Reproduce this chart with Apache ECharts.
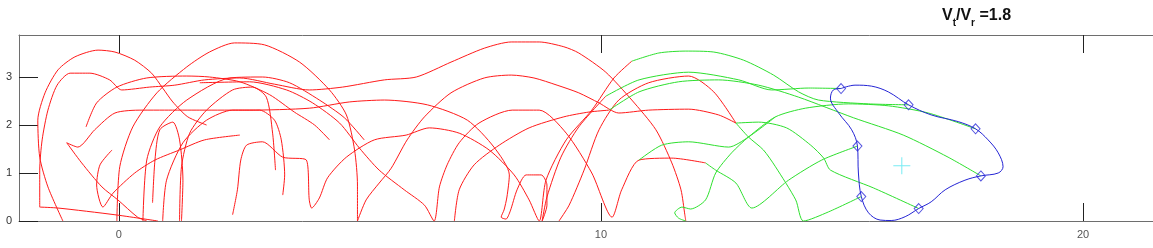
<!DOCTYPE html>
<html><head><meta charset="utf-8">
<script src="https://cdn.jsdelivr.net/npm/echarts@6/dist/echarts.min.js"></script>
<style>html,body{margin:0;padding:0;background:#fff}#c{width:1153px;height:248px}</style>
</head><body><div id="c"></div>
<script>
// ---- axis settings / tick labels ----
const xTicks = [0, 10, 20];
const yTicks = [0, 1, 2, 3];
const xMin = -2.07, xMax = 21.45, yMin = 0, yMax = 3.875;

// ---- red (earlier) parts of the tracks ----
const t1Red = [[0.58,0],[0.39,0.08],[-0.02,0.44],[-0.35,0.71],[-0.77,1.21],[-1.08,1.63],[-0.85,1.54],[-0.50,1.90],[-0.08,2.25],[0.48,2.31],[0.95,2.31],[1.68,2.31],[2.71,2.31],[3.95,2.35],[4.78,2.48],[5.51,2.52],[6.40,2.42],[7.23,2.10],[7.78,1.54],[8.10,0.96],[8.05,0.50],[7.99,0.23],[7.93,0.08],[8.03,0.04],[8.12,0.21],[8.26,0.65],[8.45,0.96],[8.76,0.96],[8.88,0.75],[8.88,0.33],[8.78,0],[8.88,0.50],[9.17,1.33],[9.54,1.96],[10.10,2.60]];
const t2Red = [[2.36,0.13],[2.46,0.65],[2.53,1.27],[2.65,1.58],[2.98,1.65],[3.40,1.33],[3.89,1.27],[3.95,0.44],[4.00,0.27],[4.16,0.48],[4.33,0.90],[4.72,1.33],[5.30,1.69],[5.96,1.79],[6.44,1.94],[7.06,1.83],[7.68,1.48],[8.20,0.96],[8.51,0.44],[8.72,0],[8.86,0.85],[9.28,1.69],[9.81,2.31],[10.27,2.98],[10.64,3.33]];
const t3Red = [[-1.64,0.29],[-1.64,1.06],[-1.59,1.69],[-1.47,2.31],[-1.28,2.83],[-1.01,3.08],[-0.60,3.08],[-0.19,2.94],[0.06,2.73],[0.64,2.79],[1.16,2.83],[1.78,2.94],[2.51,2.98],[3.23,2.85],[3.95,2.73],[4.64,2.79],[5.51,2.94],[6.17,3.00],[6.89,3.31],[7.58,3.60],[8.14,3.73],[8.72,3.73],[9.23,3.63],[9.54,3.50],[10.10,3.10],[10.64,2.52],[11.14,1.90],[11.47,1.21],[11.66,0.65],[11.74,0.13],[11.76,0]];
const t4Red = [[6.96,0],[7.06,0.65],[7.37,1.17],[7.89,1.58],[8.51,1.94],[9.23,2.17],[9.75,2.27],[10.17,2.31]];
const t5Red = [[-0.04,0],[0.02,1.13],[0.29,1.96],[0.79,2.67],[1.41,3.21],[1.88,3.52],[2.40,3.71],[3.02,3.67],[3.75,3.31],[4.37,2.73],[4.72,2.21],[4.89,1.48],[4.95,0.75],[4.95,0],[5.13,0.44],[5.40,0.79],[5.65,1.10],[5.98,1.69],[6.34,2.17],[6.89,2.67],[7.58,2.98],[8.14,3.04],[8.61,2.98],[9.09,2.83],[9.54,2.67],[9.96,2.46],[10.37,2.25],[10.99,2.31],[11.82,2.33],[12.44,2.21],[12.80,2.04]];
const t6Red = [[9.13,0],[9.34,0.33],[9.65,1.06],[9.96,1.90],[10.37,2.52],[10.99,2.88],[11.82,3.02],[12.34,2.69],[12.80,2.04]];
const t7Red = [[1.68,2.88],[2.71,2.90],[3.48,2.73],[4.02,2.46],[4.58,2.04],[4.99,1.52],[5.40,1.06],[5.92,0.65],[6.34,0.33],[6.54,0],[6.65,0.71],[6.81,1.17],[7.06,1.63],[7.47,2.04],[8.16,2.31],[8.72,2.31],[9.28,1.83],[9.81,1.00],[10.23,0.08],[10.43,0.65],[10.79,1.27],[11.47,1.31],[12.17,1.21]];
const r1 = [[-1.16,0],[-1.47,0.71],[-1.64,1.33],[-1.68,2.10],[-1.53,2.67],[-1.26,3.15],[-0.91,3.42],[-0.43,3.56],[-0.08,3.52],[0.33,3.35],[0.68,3.08],[0.91,2.77],[1.12,2.48],[1.43,2.17],[1.82,2.00]];
const r3 = [[-0.68,1.96],[-0.46,2.46],[-0.04,2.79],[0.58,2.98],[1.41,3.02],[1.88,3.00],[2.51,2.90],[3.13,2.63],[3.64,2.27],[4.06,2.00],[4.37,1.69]];
const r5 = [[-1.64,0.29],[-1.26,0.27],[-0.08,0.13],[0.81,0]];
const r6 = [[-0.14,1.48],[-0.39,1.17],[-0.46,0.75],[-0.33,0.29],[-0.12,0.58],[0.33,1.00],[0.75,1.27],[1.26,1.48],[1.78,1.69],[2.51,1.79]];
const r8 = [[0.50,0],[0.58,1.27],[0.85,1.96],[1.41,2.52],[2.30,2.98],[2.98,3.00],[3.54,2.88],[4.16,2.52],[4.68,2.15],[5.09,1.69]];
const r9 = [[0.70,0.38],[0.75,1.27],[0.85,1.90],[1.12,2.06],[1.26,1.69],[1.33,0.85],[1.30,0]];
const r10 = [[0.91,0],[0.99,0.85],[1.33,1.63],[1.82,2.10],[2.36,2.31],[2.92,2.31],[3.23,2.10],[3.37,1.69],[3.44,0.96],[3.40,0.54]];
const r11 = [[1.26,0],[1.30,1.13],[1.47,1.83],[1.82,2.31],[2.36,2.73],[2.77,2.79],[3.06,2.58],[3.19,1.83],[3.25,1.06]];

// ---- green (later) parts of the tracks ----
const t1Green = [[10.10,2.60],[10.79,2.94],[11.82,3.10],[12.86,2.94],[13.54,2.73],[14.31,2.77],[14.98,2.76]];
const t2Green = [[10.64,3.33],[11.20,3.50],[11.76,3.54],[12.34,3.52],[12.96,3.35],[13.58,3.04],[14.10,2.69],[14.51,2.52],[15.55,2.44],[16.38,2.42]];
const t3Green = [[11.76,0],[11.61,0.06],[11.53,0.17],[11.68,0.29],[11.86,0.25],[12.17,0.44],[12.38,1.00],[12.71,1.42],[13.06,1.75],[13.62,2.17],[14.24,2.35],[15.13,2.44],[15.96,2.40],[16.79,2.25],[17.77,1.92]];
const t4Green = [[10.17,2.31],[10.79,2.69],[11.61,2.90],[12.44,2.94],[13.27,2.83],[14.10,2.58],[15.24,2.15],[16.27,1.79],[17.20,1.33],[17.88,0.94]];
const t5Green = [[12.80,2.04],[13.27,2.06],[13.85,1.94],[14.35,1.58],[14.62,1.31],[14.76,1.06],[15.65,0.69],[16.59,0.26]];
const t6Green = [[12.80,2.04],[13.06,1.75],[13.37,1.48],[13.62,1.13],[14.04,0.44],[14.20,0],[14.72,0.19],[15.40,0.51]];
const t7Green = [[12.17,1.21],[12.38,1.06],[12.80,0.79],[13.13,0.27],[13.89,0.85],[14.58,1.27],[15.32,1.56]];
const extraGreen = [[10.79,1.27],[11.26,1.58],[11.82,1.65],[12.65,1.54],[13.06,1.75],[13.62,2.17]];

// ---- blue outline, its marker points and the centre ----
const blueLoop = [[14.98,2.76],[15.27,2.83],[15.61,2.81],[15.96,2.69],[16.38,2.42],[16.85,2.21],[17.41,2.07],[17.77,1.92],[18.03,1.69],[18.24,1.42],[18.34,1.13],[18.24,1.00],[17.88,0.94],[17.55,0.85],[17.14,0.65],[16.85,0.40],[16.59,0.26],[16.31,0.09],[16.02,0.01],[15.79,0.02],[15.55,0.17],[15.40,0.51],[15.34,1.00],[15.32,1.56],[15.20,1.90],[14.93,2.25],[14.76,2.56],[14.82,2.73],[14.98,2.76]];
const diamonds = [[14.98,2.76],[16.38,2.42],[17.77,1.92],[17.88,0.94],[16.59,0.26],[15.40,0.51],[15.32,1.56]];
const centre = [[16.24,1.15]];

const redSets = [t1Red,t2Red,t3Red,t4Red,t5Red,t6Red,t7Red,r1,r3,r5,r6,r8,r9,r10,r11];
const greenSets = [t1Green,t2Green,t3Green,t4Green,t5Green,t6Green,t7Green,extraGreen];

function lineSeries(data, color, extra) {
  return Object.assign({type:'line', data, showSymbol:false, symbol:'none', silent:true,
    smooth:0.25, lineStyle:{color, width:1}, clip:true, z:2}, extra || {});
}

const series = [];
redSets.forEach(d => series.push(lineSeries(d, '#ff1a1a')));
greenSets.forEach(d => series.push(lineSeries(d, '#2ee02e')));
series.push(lineSeries(blueLoop, '#2424d4', {smooth:0.35, z:3}));
series.push({type:'scatter', data:diamonds, symbol:'diamond', symbolSize:[9,10], silent:true, z:4,
  itemStyle:{color:'rgba(255,255,255,0)', borderColor:'#2a2ad8', borderWidth:1}});
series.push({type:'scatter', data:centre, silent:true, z:4, symbolSize:17,
  symbol:'path://M8,0L9,0L9,8L17,8L17,9L9,9L9,17L8,17L8,9L0,9L0,8L8,8Z',
  itemStyle:{color:'#55e6f0'}});

const font = 'Liberation Sans, Arial, Helvetica, sans-serif';
const chart = echarts.init(document.getElementById('c'), null, {renderer:'canvas'});
chart.setOption({
  animation:false,
  backgroundColor:'#ffffff',
  title:{left:942, top:8, padding:0,
    text:'{v|V}{s|t}{v|/V}{s|r}{v| =1.8}',
    textStyle:{rich:{
      v:{fontSize:16, fontWeight:'bold', color:'#111', fontFamily:font, lineHeight:17, verticalAlign:'top'},
      s:{fontSize:10, fontWeight:'bold', color:'#111', fontFamily:font, lineHeight:20, verticalAlign:'bottom'}
    }}},
  grid:{left:19, top:35, width:1136, height:186, show:false},
  xAxis:[
    {type:'value', min:xMin, max:xMax, position:'bottom',
      axisLine:{show:true, onZero:false, lineStyle:{color:'#6e6e6e', width:1}},
      axisTick:{show:true, inside:true, length:18, customValues:xTicks, lineStyle:{color:'#222', width:1}},
      axisLabel:{show:true, customValues:xTicks, color:'#555', fontSize:11, margin:8, fontFamily:font},
      splitLine:{show:false}},
    {type:'value', min:xMin, max:xMax, position:'top',
      axisLine:{show:true, onZero:false, lineStyle:{color:'#6e6e6e', width:1}},
      axisTick:{show:true, inside:true, length:18, customValues:xTicks, lineStyle:{color:'#222', width:1}},
      axisLabel:{show:false}, splitLine:{show:false}}
  ],
  yAxis:{type:'value', min:yMin, max:yMax, position:'left',
    axisLine:{show:true, onZero:false, lineStyle:{color:'#6e6e6e', width:1}},
    axisTick:{show:true, inside:true, length:19, customValues:yTicks, lineStyle:{color:'#222', width:1}},
    axisLabel:{show:true, customValues:yTicks, color:'#333', fontSize:11, margin:7, fontFamily:font},
    splitLine:{show:false}},
  series
});
</script>
</body></html>
